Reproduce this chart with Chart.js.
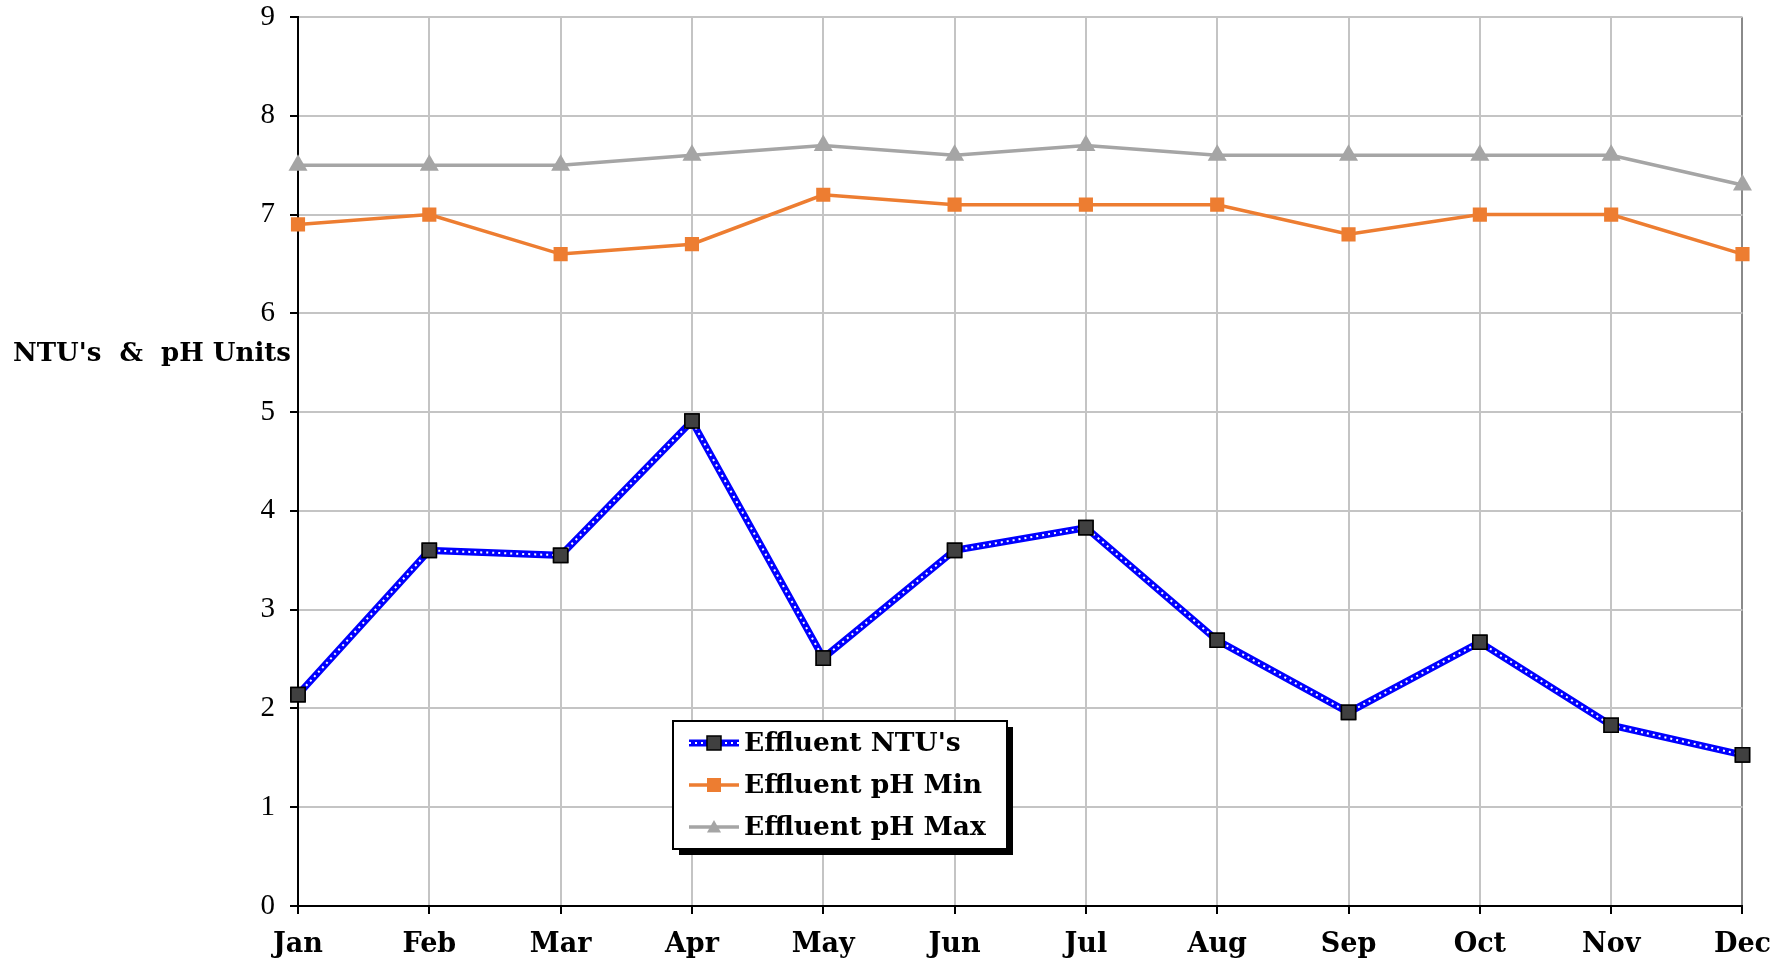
<!DOCTYPE html>
<html>
<head>
<meta charset="utf-8">
<title>Effluent NTU's & pH</title>
<script src="https://cdn.jsdelivr.net/npm/chart.js@4.4.1/dist/chart.umd.min.js"></script>
<style>
  html, body { margin: 0; padding: 0; background: #fff; }
  #wrap { position: relative; width: 1786px; height: 962px; }
  #yTitle {
    position: absolute; left: 13px; top: 337px;
    font: bold 26px "DejaVu Serif", serif; white-space: pre; color: #000;
  }
</style>
</head>
<body>
<div id="wrap">
  <canvas id="chart" width="1786" height="962"></canvas>
  <div id="yTitle">NTU's  &amp;  pH Units</div>
</div>
<script>
// months on the x axis
const months = ["Jan", "Feb", "Mar", "Apr", "May", "Jun", "Jul", "Aug", "Sep", "Oct", "Nov", "Dec"];

// values
const effluentNtu = [2.14, 3.60, 3.55, 4.91, 2.51, 3.60, 3.83, 2.69, 1.96, 2.67, 1.83, 1.53];
const effluentPhMin = [6.9, 7.0, 6.6, 6.7, 7.2, 7.1, 7.1, 7.1, 6.8, 7.0, 7.0, 6.6];
const effluentPhMax = [7.5, 7.5, 7.5, 7.6, 7.7, 7.6, 7.7, 7.6, 7.6, 7.6, 7.6, 7.3];

const yTicks = [0, 1, 2, 3, 4, 5, 6, 7, 8, 9];

const FONT = '"DejaVu Serif", serif';

// white dotted core on top of the thick blue NTU line, then markers again on top
const dottedCore = {
  id: "dottedCore",
  afterDatasetDraw(chart, args) {
    if (args.index !== 0) return;
    const ctx = chart.ctx;
    const pts = args.meta.data;
    ctx.save();
    ctx.strokeStyle = "#ffffff";
    ctx.lineWidth = 2;
    ctx.setLineDash([2, 4]);
    ctx.beginPath();
    pts.forEach((p, i) => (i ? ctx.lineTo(p.x, p.y) : ctx.moveTo(p.x, p.y)));
    ctx.stroke();
    ctx.restore();
    pts.forEach((p) => p.draw(ctx, chart.chartArea));
  },
};

// boxed legend with drop shadow, sitting inside the plot
const boxLegend = {
  id: "boxLegend",
  afterDraw(chart) {
    const ctx = chart.ctx;
    const x = 673, y = 721, w = 334, h = 128;
    ctx.save();
    ctx.fillStyle = "#000";
    ctx.fillRect(x + 6, y + 6, w, h);
    ctx.fillStyle = "#fff";
    ctx.fillRect(x, y, w, h);
    ctx.lineWidth = 2;
    ctx.strokeStyle = "#000";
    ctx.strokeRect(x, y, w, h);

    const rows = [743, 785, 827];
    chart.data.datasets.forEach((ds, i) => {
      const cy = rows[i];
      const x0 = x + 16, x1 = x + 66, cx = (x0 + x1) / 2;
      ctx.setLineDash([]);
      ctx.strokeStyle = ds.borderColor;
      ctx.lineWidth = ds.borderWidth;
      ctx.beginPath(); ctx.moveTo(x0, cy); ctx.lineTo(x1, cy); ctx.stroke();
      if (i === 0) {
        ctx.strokeStyle = "#fff"; ctx.lineWidth = 2; ctx.setLineDash([2, 4]);
        ctx.beginPath(); ctx.moveTo(x0, cy); ctx.lineTo(x1, cy); ctx.stroke();
        ctx.setLineDash([]);
      }
      ctx.fillStyle = ds.pointBackgroundColor;
      ctx.strokeStyle = ds.pointBorderColor;
      ctx.lineWidth = 1.5;
      const r = 7;
      if (ds.pointStyle === "triangle") {
        ctx.beginPath();
        ctx.moveTo(cx, cy - r); ctx.lineTo(cx + r, cy + r * 0.8); ctx.lineTo(cx - r, cy + r * 0.8);
        ctx.closePath(); ctx.fill();
      } else {
        ctx.fillRect(cx - r, cy - r, 2 * r, 2 * r);
        if (i === 0) ctx.strokeRect(cx - r, cy - r, 2 * r, 2 * r);
      }
      ctx.fillStyle = "#000";
      ctx.font = "bold 26.5px " + FONT;
      ctx.textBaseline = "middle";
      ctx.fillText(ds.label, x + 71, cy + 1);
    });
    ctx.restore();
  },
};

new Chart(document.getElementById("chart"), {
  type: "line",
  data: {
    labels: months,
    datasets: [
      {
        label: "Effluent NTU's",
        data: effluentNtu,
        borderColor: "#0000ff",
        borderWidth: 7,
        pointStyle: "rect",
        pointRadius: 10,
        pointBackgroundColor: "#404040",
        pointBorderColor: "#000000",
        pointBorderWidth: 1.5,
        tension: 0,
      },
      {
        label: "Effluent pH Min",
        data: effluentPhMin,
        borderColor: "#ed7d31",
        borderWidth: 3.5,
        pointStyle: "rect",
        pointRadius: 10,
        pointBackgroundColor: "#ed7d31",
        pointBorderColor: "#ed7d31",
        pointBorderWidth: 0,
        tension: 0,
      },
      {
        label: "Effluent pH Max",
        data: effluentPhMax,
        borderColor: "#a5a5a5",
        borderWidth: 3.5,
        pointStyle: "triangle",
        pointRadius: 11,
        pointBackgroundColor: "#a5a5a5",
        pointBorderColor: "#a5a5a5",
        pointBorderWidth: 0,
        tension: 0,
      },
    ],
  },
  options: {
    responsive: false,
    animation: false,
    layout: { padding: { top: 17, right: 43, left: 0, bottom: 0 } },
    plugins: {
      legend: { display: false },
      tooltip: { enabled: false },
    },
    scales: {
      x: {
        offset: false,
        grid: {
          color: (c) => (c.index === months.length - 1 ? "#8a8a8a" : "#c4c4c4"),
          lineWidth: 2,
          tickColor: "#000",
          tickLength: 8,
        },
        border: { color: "#000", width: 2 },
        ticks: {
          color: "#000",
          font: { family: FONT, size: 27, weight: "bold" },
          padding: 15,
          maxRotation: 0,
        },
        afterFit(s) { s.height = 56; },
      },
      y: {
        min: 0,
        max: 9,
        afterBuildTicks(s) { s.ticks = yTicks.map((v) => ({ value: v })); },
        grid: {
          color: "#c4c4c4",
          lineWidth: 2,
          tickColor: "#000",
          tickLength: 8,
        },
        border: { color: "#000", width: 2 },
        ticks: {
          color: "#000",
          font: { family: '"Liberation Serif", serif', size: 29 },
          padding: 15,
        },
        afterFit(s) { s.width = 298; s.paddingTop = 0; s.paddingBottom = 0; },
      },
    },
  },
  plugins: [dottedCore, boxLegend],
});
</script>
</body>
</html>
